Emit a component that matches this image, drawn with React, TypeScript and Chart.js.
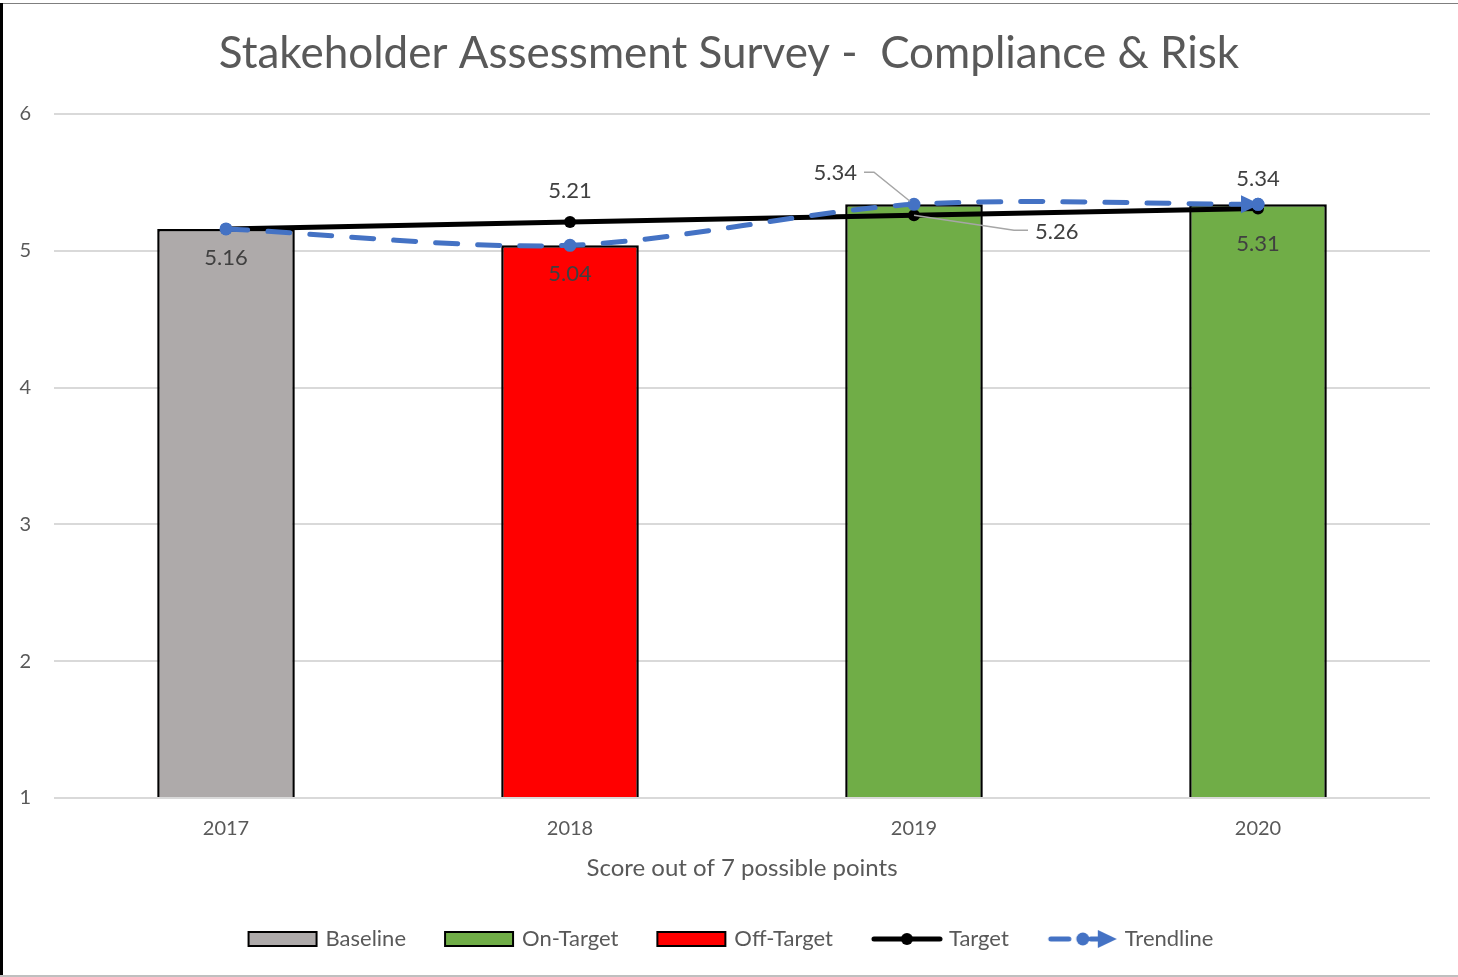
import React, { useEffect, useRef } from 'react';
import { Chart, registerables } from 'chart.js';

Chart.register(...registerables);

const categories = ['2017', '2018', '2019', '2020'];
const baselineValues = [5.16, null, null, null];
const onTargetValues = [null, null, 5.34, 5.34];
const offTargetValues = [null, 5.04, null, null];
const targetValues = [5.16, 5.21, 5.26, 5.31];
const trendValues = [5.16, 5.04, 5.34, 5.34];
const yTickValues = [1, 2, 3, 4, 5, 6];
const legendNames = ['Baseline', 'On-Target', 'Off-Target', 'Target', 'Trendline'];
const titleText = 'Stakeholder Assessment Survey -  Compliance & Risk';
const xAxisTitle = 'Score out of 7 possible points';

const FONT = "Lato, 'Open Sans', sans-serif";
const GREY_TEXT = '#595959';
const LABEL_TEXT = '#404040';
const BLUE = '#4472C4';
const GREEN = '#70AD47';
const RED = '#FF0000';
const BASE_GREY = '#AEAAAA';

// icon canvas is 80 wide, drawn centred on a 70 px legend box (spans box-5 .. box+75)
const ICON_OFF = 9;

function makeIcon(draw: (ctx: CanvasRenderingContext2D) => void): HTMLCanvasElement {
  const c = document.createElement('canvas');
  c.width = 80;
  c.height = 22;
  const ctx = c.getContext('2d') as CanvasRenderingContext2D;
  draw(ctx);
  return c;
}

function boxIcon(color: string) {
  return makeIcon((ctx) => {
    ctx.fillStyle = color;
    ctx.fillRect(ICON_OFF, 4, 68, 14);
    ctx.strokeStyle = '#000';
    ctx.lineWidth = 2;
    ctx.strokeRect(ICON_OFF, 4, 68, 14);
  });
}

const labelPlugin = {
  id: 'valueLabels',
  afterDatasetsDraw(chart: any) {
    const ctx = chart.ctx as CanvasRenderingContext2D;
    ctx.save();
    chart.data.datasets.forEach((ds: any, di: number) => {
      const specs = ds.labelSpecs;
      if (!specs) return;
      const meta = chart.getDatasetMeta(di);
      specs.forEach((s: any, i: number) => {
        if (!s) return;
        const el = meta.data[i];
        const v = ds.data[i];
        if (!el || v == null) return;
        const x = el.x;
        const y = el.y;
        const text = Number(v).toFixed(2);
        ctx.font = `22px ${FONT}`;
        ctx.fillStyle = LABEL_TEXT;
        ctx.textBaseline = 'middle';
        if (s.leader) {
          ctx.strokeStyle = '#A6A6A6';
          ctx.lineWidth = 1.5;
          ctx.beginPath();
          s.leader.forEach((p: number[], k: number) => {
            if (k === 0) ctx.moveTo(x + p[0], y + p[1]);
            else ctx.lineTo(x + p[0], y + p[1]);
          });
          ctx.stroke();
          ctx.textAlign = s.align;
          ctx.fillText(text, x + s.tx, y + s.ty);
        } else {
          ctx.textAlign = 'center';
          ctx.fillText(text, x, y + s.dy);
        }
      });
    });
    ctx.restore();
  },
};

const arrowPlugin = {
  id: 'trendArrow',
  afterDatasetsDraw(chart: any) {
    chart.data.datasets.forEach((ds: any, di: number) => {
      if (!ds.endArrow) return;
      const meta = chart.getDatasetMeta(di);
      const last = meta.data[meta.data.length - 1];
      if (!last) return;
      const ctx = chart.ctx as CanvasRenderingContext2D;
      ctx.save();
      ctx.fillStyle = ds.borderColor;
      ctx.beginPath();
      ctx.moveTo(last.x + 2, last.y);
      ctx.lineTo(last.x - 17, last.y - 9);
      ctx.lineTo(last.x - 17, last.y + 9);
      ctx.closePath();
      ctx.fill();
      ctx.beginPath();
      ctx.arc(last.x, last.y, 6.5, 0, Math.PI * 2);
      ctx.fill();
      ctx.restore();
    });
  },
};

export default function App() {
  const canvasRef = useRef<HTMLCanvasElement | null>(null);

  useEffect(() => {
    if (!canvasRef.current) return;

    const o = ICON_OFF;
    const icons = [
      boxIcon(BASE_GREY),
      boxIcon(GREEN),
      boxIcon(RED),
      makeIcon((ctx) => {
        ctx.strokeStyle = '#000';
        ctx.lineWidth = 5;
        ctx.lineCap = 'round';
        ctx.beginPath();
        ctx.moveTo(o + 2, 11);
        ctx.lineTo(o + 68, 11);
        ctx.stroke();
        ctx.fillStyle = '#000';
        ctx.beginPath();
        ctx.arc(o + 35, 11, 6, 0, Math.PI * 2);
        ctx.fill();
      }),
      makeIcon((ctx) => {
        ctx.strokeStyle = BLUE;
        ctx.fillStyle = BLUE;
        ctx.lineWidth = 5;
        ctx.lineCap = 'round';
        ctx.beginPath();
        ctx.moveTo(o + 3, 11);
        ctx.lineTo(o + 21, 11);
        ctx.stroke();
        ctx.beginPath();
        ctx.arc(o + 35, 11, 6.5, 0, Math.PI * 2);
        ctx.fill();
        ctx.beginPath();
        ctx.moveTo(o + 43, 11);
        ctx.lineTo(o + 54, 11);
        ctx.stroke();
        ctx.beginPath();
        ctx.moveTo(o + 69, 11);
        ctx.lineTo(o + 50, 2);
        ctx.lineTo(o + 50, 20);
        ctx.closePath();
        ctx.fill();
      }),
    ];

    const barCommon = {
      borderColor: '#000',
      borderWidth: 2.5,
      grouped: false,
      base: 1,
      barPercentage: 0.4,
      categoryPercentage: 1,
      order: 3,
    };

    const chart = new Chart(canvasRef.current, {
      type: 'bar',
      data: {
        labels: categories,
        datasets: [
          {
            type: 'line',
            label: legendNames[4],
            data: trendValues,
            borderColor: BLUE,
            backgroundColor: BLUE,
            borderWidth: 5,
            borderDash: [22, 20],
            borderCapStyle: 'round',
            tension: 0.3,
            pointRadius: 6.5,
            pointBorderWidth: 0,
            pointBackgroundColor: BLUE,
            order: 1,
            endArrow: true,
            labelSpecs: [
              null,
              { dy: 29 },
              { leader: [[-50, -32], [-40, -32], [-4, -3]], tx: -57, ty: -31, align: 'right' },
              { dy: -25 },
            ],
          } as any,
          {
            type: 'line',
            label: legendNames[3],
            data: targetValues,
            borderColor: '#000',
            backgroundColor: '#000',
            borderWidth: 5,
            tension: 0,
            pointRadius: 6,
            pointBorderWidth: 0,
            pointBackgroundColor: '#000',
            order: 2,
            labelSpecs: [
              { dy: 29 },
              { dy: -31 },
              { leader: [[0, 0], [100, 15], [114, 15]], tx: 121, ty: 17, align: 'left' },
              { dy: 36 },
            ],
          } as any,
          { ...barCommon, label: legendNames[0], data: baselineValues, backgroundColor: BASE_GREY } as any,
          { ...barCommon, label: legendNames[1], data: onTargetValues, backgroundColor: GREEN } as any,
          { ...barCommon, label: legendNames[2], data: offTargetValues, backgroundColor: RED } as any,
        ],
      },
      options: {
        animation: false,
        responsive: false,
        devicePixelRatio: 1,
        layout: { padding: { left: 0, right: 0, top: 0, bottom: 17 } },
        plugins: {
          tooltip: { enabled: false },
          title: {
            display: true,
            text: titleText,
            color: GREY_TEXT,
            font: { family: FONT, size: 44, weight: 'normal' },
            padding: { top: 27, bottom: 34.2 },
          },
          legend: {
            position: 'bottom',
            labels: {
              usePointStyle: true,
              pointStyleWidth: 70,
              padding: 35,
              color: GREY_TEXT,
              font: { family: FONT, size: 22 },
              generateLabels: () =>
                legendNames.map((name, i) => ({
                  text: name,
                  pointStyle: icons[i],
                  fontColor: GREY_TEXT,
                  hidden: false,
                  datasetIndex: i,
                  lineWidth: 0,
                })) as any,
            },
          },
        },
        scales: {
          x: {
            grid: { display: false, drawTicks: false },
            border: { display: false },
            ticks: { color: GREY_TEXT, font: { family: FONT, size: 20 }, padding: 19 },
            title: {
              display: true,
              text: xAxisTitle,
              color: GREY_TEXT,
              font: { family: FONT, size: 24 },
              padding: { top: 0, bottom: 10.6 },
            },
            afterFit: (s: any) => {
              s.height = 95;
            },
          },
          y: {
            min: yTickValues[0],
            max: yTickValues[yTickValues.length - 1],
            afterBuildTicks: (s: any) => {
              s.ticks = yTickValues.map((v) => ({ value: v }));
            },
            grid: { color: '#D9D9D9', lineWidth: 2, drawTicks: false },
            border: { display: false },
            ticks: { color: GREY_TEXT, font: { family: FONT, size: 20 }, padding: 23 },
            afterFit: (s: any) => {
              s.width = 54;
            },
          },
          yRight: {
            type: 'linear',
            position: 'right',
            display: true,
            grid: { display: false, drawTicks: false },
            border: { display: false },
            ticks: { display: false },
            afterFit: (s: any) => {
              s.width = 28;
            },
          },
        },
      } as any,
      plugins: [labelPlugin, arrowPlugin],
    });

    return () => chart.destroy();
  }, []);

  return (
    <div style={{ position: 'fixed', left: 0, top: 0, width: 1458, height: 977, background: '#fff' }}>
      <canvas ref={canvasRef} width={1458} height={977} style={{ position: 'absolute', left: 0, top: 0 }} />
      <div style={{ position: 'absolute', left: 0, top: 3, width: 1458, height: 1, background: '#7F7F7F' }} />
      <div style={{ position: 'absolute', left: 0, top: 3, width: 3, height: 974, background: '#000' }} />
      <div style={{ position: 'absolute', left: 0, top: 975, width: 1458, height: 2, background: '#BFBFBF' }} />
    </div>
  );
}
